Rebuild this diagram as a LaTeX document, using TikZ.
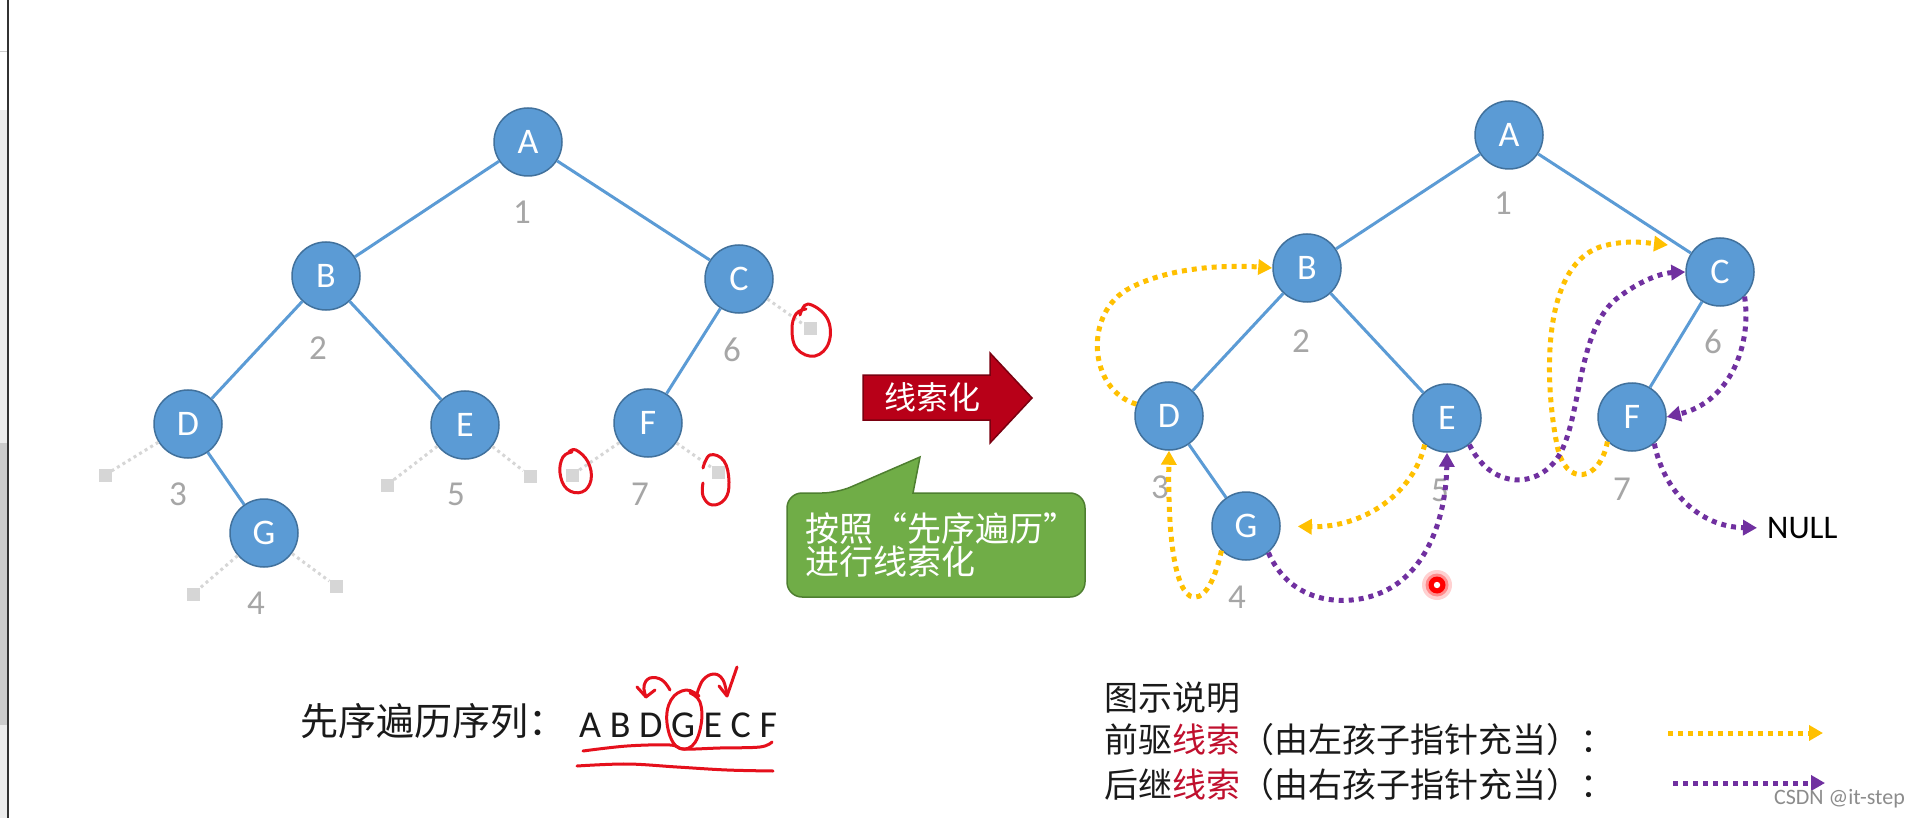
\documentclass[tikz,border=0pt]{standalone}
\usepackage{fontspec}
\setmainfont{Carlito}
\newfontfamily\cjk{Noto Sans CJK SC}
\usetikzlibrary{arrows.meta}
\definecolor{nodeblue}{HTML}{5B9BD5}
\definecolor{nodeedge}{HTML}{41719C}
\definecolor{numgray}{HTML}{A6A6A6}
\definecolor{stubgray}{HTML}{D6D6D6}
\definecolor{thrY}{HTML}{FFC000}
\definecolor{thrP}{HTML}{7030A0}
\definecolor{arrowred}{HTML}{B80018}
\definecolor{arrowedge}{HTML}{7A0010}
\definecolor{callgreen}{HTML}{70AD47}
\definecolor{calledge}{HTML}{4E7F30}
\definecolor{penred}{HTML}{E5101C}
\definecolor{legred}{HTML}{C0102E}
\definecolor{txt}{HTML}{1A1A1A}
\newcommand{\fsz}[1]{\fontsize{#1}{#1}\selectfont}
\begin{document}
\begin{tikzpicture}[x=1pt,y=-1pt,
  tnode/.style={circle, fill=nodeblue, draw=nodeedge, line width=1.5pt, minimum size=68pt, inner sep=0pt, text=white, font=\fsz{36}},
  tedge/.style={draw=nodeblue, line width=3pt},
  num/.style={text=numgray, font=\fsz{35}, inner sep=0pt},
  stubsq/.style={rectangle, fill=stubgray, minimum size=13pt, inner sep=0pt},
  stubln/.style={draw=stubgray, line width=3pt, dash pattern=on 3pt off 3.5pt},
  thread/.style={line width=5pt, dash pattern=on 5pt off 5pt, -{Triangle[length=14pt,width=15pt]}},
  ythr/.style={thread, draw=thrY},
  pthr/.style={thread, draw=thrP},
  pen/.style={draw=penred, line width=3pt, line cap=round, line join=round},
  cjktxt/.style={inner sep=0pt, font=\cjk\fsz{#1}},
]
\useasboundingbox (0,0) rectangle (1920,818);
\fill[white] (0,0) rectangle (1920,818);
% left screen strip
\fill[black!7] (0,110) rectangle (7,818);
\fill[black!20] (0,443) rectangle (7,725);
\draw[black!20, line width=1pt] (0,52) -- (7,52);
\draw[black!80, line width=2pt] (7.5,0) -- (7.5,818);

% ---------- left tree ----------
\node[tnode] (LA) at (528,142) {A};
\node[tnode] (LB) at (326,276) {B};
\node[tnode] (LC) at (739,279) {C};
\node[tnode] (LD) at (188,424) {D};
\node[tnode] (LE) at (465,425) {E};
\node[tnode] (LF) at (648,423) {F};
\node[tnode] (LG) at (264,533) {G};
\draw[tedge] (LA) -- (LB);
\draw[tedge] (LA) -- (LC);
\draw[tedge] (LB) -- (LD);
\draw[tedge] (LB) -- (LE);
\draw[tedge] (LC) -- (LF);
\draw[tedge] (LD) -- (LG);
\node[num] (Ln1) at (522,212) {1};
\node[num] (Ln2) at (318,348) {2};
\node[num] (Ln6) at (732,350) {6};
\node[num] (Ln3) at (178,494) {3};
\node[num] (Ln5) at (456,494) {5};
\node[num] (Ln7) at (640,494) {7};
\node[num] (Ln4) at (256,603) {4};
% null stubs
\node[stubsq] (sD) at (105,475) {};
\node[stubsq] (sEl) at (387,485) {};
\node[stubsq] (sEr) at (530,476) {};
\node[stubsq] (sFl) at (572,475) {};
\node[stubsq] (sFr) at (718,472) {};
\node[stubsq] (sGl) at (193,594) {};
\node[stubsq] (sGr) at (336,586) {};
\node[stubsq] (sC) at (810,329) {};
\draw[stubln] (LD) -- (sD);
\draw[stubln] (LE) -- (sEl);
\draw[stubln] (LE) -- (sEr);
\draw[stubln] (LF) -- (sFl);
\draw[stubln] (LF) -- (sFr);
\draw[stubln] (LG) -- (sGl);
\draw[stubln] (LG) -- (sGr);
\draw[stubln] (LC) -- (sC);
% red hand circles
\draw[pen] plot[smooth, tension=0.7] coordinates {(800,315) (808,304) (827,318) (829,342) (815,356) (797,349) (792,330) (796,314) (806,309)};
\draw[pen] plot[smooth, tension=0.7] coordinates {(569,452) (576,450) (588,462) (591,480) (582,492) (567,489) (560,473) (563,457) (572,452)};
\draw[pen] plot[smooth, tension=0.7] coordinates {(703,468) (710,455) (724,461) (729,482) (725,499) (712,505) (703,496) (703,483)};

% ---------- middle ----------
\draw[fill=arrowred, draw=arrowedge, line width=1.5pt] (863,375) -- (990,375) -- (990,353) -- (1032,398) -- (990,443) -- (990,420) -- (863,420) -- cycle;
\node[cjktxt=32, text=white] (xsh) at (932,397) {线索化};
\draw[fill=callgreen, draw=calledge, line width=1.5pt, rounded corners=15pt] (837,493) [sharp corners] -- (920,457) -- (913,493) [rounded corners=15pt] -- (1085,493) -- (1085,597) -- (787,597) -- (787,493) -- cycle;
\node[cjktxt=34, text=white, anchor=base west] (cb1) at (805,541) {按照\makebox[34pt][r]{“}先序遍历\makebox[34pt][l]{”}};
\node[cjktxt=34, text=white, anchor=base west] (cb2) at (805,574) {进行线索化};

% ---------- right tree ----------
\node[tnode] (RA) at (1509,135) {A};
\node[tnode] (RB) at (1307,268) {B};
\node[tnode] (RC) at (1720,272) {C};
\node[tnode] (RD) at (1169,416) {D};
\node[tnode] (RE) at (1447,418) {E};
\node[tnode] (RF) at (1632,417) {F};
\node[tnode] (RG) at (1246,526) {G};
\draw[tedge] (RA) -- (RB);
\draw[tedge] (RA) -- (RC);
\draw[tedge] (RB) -- (RD);
\draw[tedge] (RB) -- (RE);
\draw[tedge] (RC) -- (RF);
\draw[tedge] (RD) -- (RG);
\node[num] (Rn1) at (1503,203) {1};
\node[num] (Rn2) at (1301,341) {2};
\node[num] (Rn6) at (1713,342) {6};
\node[num] (Rn3) at (1160,487) {3};
\node[num] (Rn5) at (1440,490) {5};
\node[num] (Rn7) at (1622,489) {7};
\node[num] (Rn4) at (1237,597) {4};
\node[anchor=west, inner sep=0pt, font=\fsz{33}, text=black] (NULL) at (1767,528) {NULL};
\coordinate (yC) at (1668,245);
% predecessor threads (yellow)
\draw[ythr] (RD.160) .. controls (1088,390) and (1083,312) .. (1130,288) .. controls (1172,266) and (1230,265) .. (RB.west);
\draw[ythr] (RG.225) .. controls (1214,585) and (1202,602) .. (1190,596) .. controls (1172,585) and (1168,520) .. (RD.south);
\draw[ythr, shorten >=17pt] (RE.230) .. controls (1414,492) and (1365,528) .. (RG.east);
\draw[ythr] (RF.225) .. controls (1600,482) and (1565,488) .. (1557,445) .. controls (1545,385) and (1540,268) .. (1600,247) .. controls (1625,239) and (1648,243) .. (yC);
% successor threads (purple)
\draw[pthr] (RG.-50) .. controls (1290,602) and (1340,606) .. (1372,596) .. controls (1425,580) and (1446,520) .. (RE.south);
\draw[pthr] (RE.-50) .. controls (1490,487) and (1533,490) .. (1556,460) .. controls (1582,425) and (1575,335) .. (1615,300) .. controls (1640,280) and (1662,273) .. (RC.west);
\draw[pthr] (RC.-45) .. controls (1752,345) and (1730,402) .. (RF.east);
\draw[pthr, shorten >=10pt] (RF.-50) .. controls (1664,492) and (1700,527) .. (NULL.west);
% laser dot
\fill[red!18] (1437,585) circle (15);
\fill[red!45] (1437,585) circle (11.5);
\fill[red] (1437,585) circle (8.5);
\fill[white] (1437,585) circle (3.2);

% ---------- bottom left ----------
\node[cjktxt=38, text=txt, anchor=base west] (seqlbl) at (300,735) {先序遍历序列：};
\node[inner sep=0pt, font=\fsz{38}, text=txt, anchor=base west] (seq) at (579,737) {A B D G E C F};
\draw[pen] plot[smooth, tension=0.7] coordinates {(699,696) (686,690) (671,700) (667,723) (676,746) (692,746) (701,725) (700,702) (690,693)};
\draw[pen] plot[smooth, tension=0.7] coordinates {(670,690) (662,680) (650,678) (644,686) (646,697)};
\draw[pen] (637,687) -- (646,697) -- (655,690);
\draw[pen] plot[smooth, tension=0.7] coordinates {(697,694) (703,680) (714,674) (723,680) (727,695)};
\draw[pen] (737,667) -- (727,696) -- (719,686);
\draw[pen] plot[smooth, tension=0.6] coordinates {(583,751) (627,746) (670,745) (684,749) (720,748) (760,747) (772,742)};
\draw[pen] plot[smooth, tension=0.6] coordinates {(577,766) (627,764) (677,767) (727,770) (773,771)};

% ---------- legend ----------
\node[cjktxt=34, text=txt, anchor=base west] (lg0) at (1104,710) {图示说明};
\node[cjktxt=34, text=txt, anchor=base west] (lg1) at (1104,752) {前驱\textcolor{legred}{线索}（由左孩子指针充当）：};
\node[cjktxt=34, text=txt, anchor=base west] (lg2) at (1104,797) {后继\textcolor{legred}{线索}（由右孩子指针充当）：};
\coordinate (ly1) at (1668,733);
\coordinate (ly2) at (1823,733);
\coordinate (lp1) at (1673,783);
\coordinate (lp2) at (1825,783);
\draw[ythr] (ly1) -- (ly2);
\draw[pthr] (lp1) -- (lp2);
\node[inner sep=0pt, anchor=base east, font=\fsz{22}, text=black!45] (wm) at (1905,804) {CSDN @it-step};
\end{tikzpicture}
\end{document}
